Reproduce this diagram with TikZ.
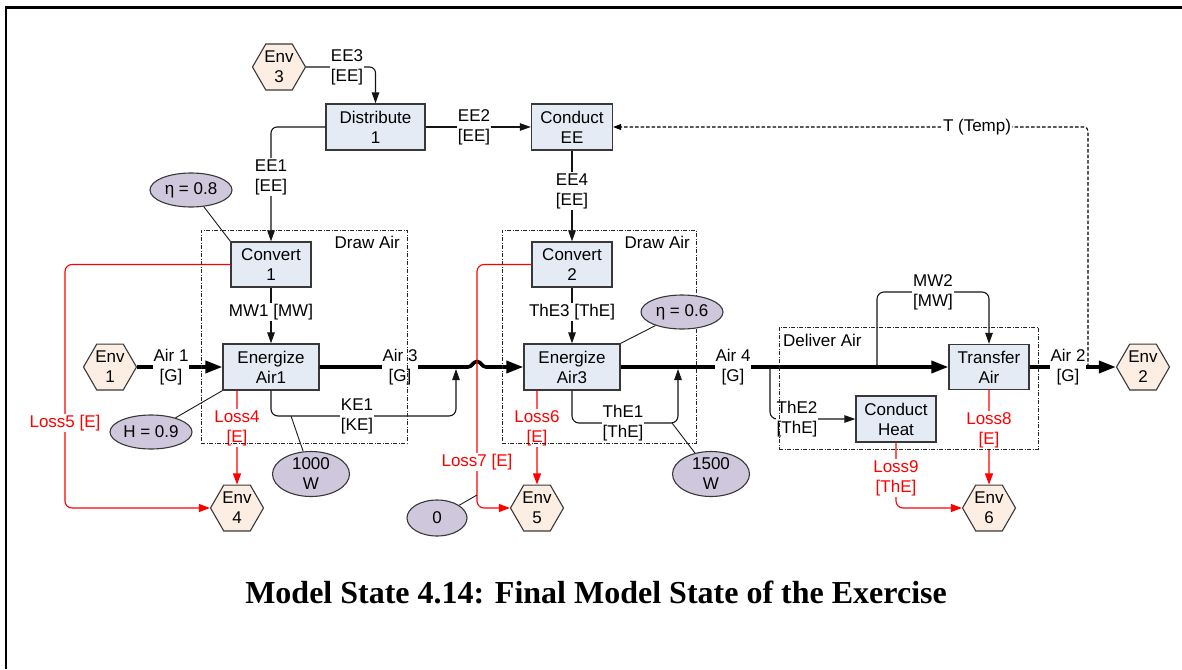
\documentclass[tikz,border=0pt]{standalone}
\usepackage{fontspec}
\setmainfont{Liberation Sans}
\newfontfamily\capfont{Liberation Serif}
\usetikzlibrary{arrows.meta,shapes.geometric,calc}

\definecolor{fnfill}{HTML}{E4EBF5}
\definecolor{envfill}{HTML}{FCEEE2}
\definecolor{parfill}{HTML}{CFC8DD}
\definecolor{edgegray}{HTML}{383838}
\definecolor{lossred}{HTML}{FF0000}

\pgfdeclarelayer{front}
\pgfsetlayers{main,front}

\begin{document}
\begin{tikzpicture}[x=1pt,y=-1pt,
  font=\fontsize{17}{20}\selectfont,
  fn/.style={draw=edgegray, fill=fnfill, line width=1.3pt, minimum width=80pt,
    minimum height=45pt, inner sep=0pt, align=center},
  env/.style={regular polygon, regular polygon sides=6, minimum size=53pt,
    draw=edgegray, fill=envfill, line width=1.1pt, inner sep=0pt, align=center},
  par/.style={ellipse, draw=edgegray, fill=parfill, line width=1.1pt,
    minimum width=82pt, minimum height=34pt, inner sep=0pt},
  partext/.style={align=center, inner sep=0pt},
  lbl/.style={fill=white, inner sep=1pt, align=center},
  redlbl/.style={lbl, text=lossred},
  conn/.style={draw=black!92, line width=1.1pt},
  arr/.style={-{Triangle[length=11pt,width=7.5pt]}},
  air/.style={draw=black, line width=3.6pt},
  airarr/.style={-{Triangle[length=17pt,width=12pt]}},
  loss/.style={draw=lossred, line width=1.1pt},
  lossarr/.style={-{Triangle[length=11pt,width=8pt]}},
  sig/.style={draw=black, line width=1.1pt, dash pattern=on 3.5pt off 2pt,
    -{Triangle[length=8pt,width=6pt]}},
  tie/.style={draw=black!90, line width=0.9pt},
  grp/.style={draw=black!85, line width=0.9pt,
    dash pattern=on 4pt off 1.5pt on 1pt off 1.5pt, minimum width=10pt,
    minimum height=10pt, inner sep=0pt},
  grplbl/.style={inner sep=0pt}
]
\useasboundingbox (0,0) rectangle (1182,669);

% page frame
\draw[line width=2.2pt] (1182,7.5) -- (6,7.5) -- (6,669);

% function blocks
\node[fn, minimum width=99pt, minimum height=46pt] (dist) at (375.5,127) {Distribute\\1};
\node[fn, minimum width=81pt, minimum height=46pt] (cee) at (572,127) {Conduct\\EE};
\node[fn] (cv1) at (271,264.5) {Convert\\1};
\node[fn] (cv2) at (572,264.5) {Convert\\2};
\node[fn, minimum width=96pt, minimum height=46pt] (ea1) at (271,367) {Energize\\Air1};
\node[fn, minimum width=96pt, minimum height=46pt] (ea3) at (572,367) {Energize\\Air3};
\node[fn] (ta) at (989,367) {Transfer\\Air};
\node[fn, minimum height=46pt] (ch) at (896,419) {Conduct\\Heat};

% environment ports
\node[env] (e3) at (279,67) {Env\\3};
\node[env] (e1) at (110,367) {Env\\1};
\node[env] (e2) at (1143,367) {Env\\2};
\node[env] (e4) at (237,508) {Env\\4};
\node[env] (e5) at (537,508) {Env\\5};
\node[env] (e6) at (989,508) {Env\\6};

% parameters, kept above the group frames
\begin{pgfonlayer}{front}
\node[par, label={[partext]center:η = 0.8}] (p08) at (191,190) {};
\node[par, label={[partext]center:η = 0.6}] (p06) at (682,312) {};
\node[par, label={[partext]center:H = 0.9}] (pH) at (151,432) {};
\node[par, minimum width=77pt, minimum height=45pt,
      label={[partext]center:1000\\W}] (p1000) at (311,474) {};
\node[par, minimum width=77pt, minimum height=45pt,
      label={[partext]center:1500\\W}] (p1500) at (711,474) {};
\node[par, minimum width=60pt, minimum height=36pt,
      label={[partext]center:0}] (p0) at (437,518) {};
\end{pgfonlayer}

% junction points on flows
\coordinate (kein) at (456,369);
\coordinate (thein) at (678,369);
\coordinate (mwsrc) at (877,367);
\coordinate (thsrc) at (770,367);
\coordinate (tsrc) at (1088,367);
\coordinate (kep) at (291,416);
\coordinate (thp) at (672,423);
\coordinate (l7p) at (477,495);

% electrical energy
\draw[conn,arr,rounded corners=6pt] (e3.east) -| (dist.north);
\draw[conn,arr] (dist.east) -- (cee.west);
\draw[conn,arr,rounded corners=6pt] (dist.west) -| (cv1.north);
\draw[conn,arr] (cee.south) -- (cv2.north);
\draw[conn,arr] (cv1.south) -- (ea1.north);
\draw[conn,arr] (cv2.south) -- (ea3.north);

% temperature signal
\draw[sig,rounded corners=4pt] (tsrc) |- (cee.east);

% gas flows
\draw[air,airarr] (e1.east) -- (ea1.west);
\draw[air,airarr] (ea1.east) -- (468,367) to[out=0,in=180] (477,361.5)
  to[out=0,in=180] (486,367) -- (ea3.west);
\draw[air,airarr] (ea3.east) -- (ta.west);
\draw[air,airarr] (ta.east) -- (e2.west);

% energy side branches
\draw[conn,arr,rounded corners=7pt] (ea1.south) |- (456,416) -- (kein);
\draw[conn,arr,rounded corners=7pt] (ea3.south) |- (678,423) -- (thein);
\draw[conn,arr,rounded corners=7pt] (mwsrc) -- (877,292) -| (ta.north);
\draw[conn,arr,rounded corners=7pt] (thsrc) |- (ch.west);

% losses
\draw[loss,lossarr] ([xshift=-34pt]ea1.south) -- (e4.north);
\draw[loss,lossarr,rounded corners=7pt] (cv1.west) -| (65,400) |- (e4.west);
\draw[loss,lossarr] ([xshift=-35pt]ea3.south) -- (e5.north);
\draw[loss,lossarr,rounded corners=7pt] (cv2.west) -| (477,400) |- (e5.west);
\draw[loss,lossarr] (ta.south) -- (e6.north);
\draw[loss,lossarr,rounded corners=7pt] (ch.south) |- (e6.west);

% parameter ties
\draw[tie] (p08) -- (cv1.north west);
\draw[tie] (pH) -- (ea1.south west);
\draw[tie] (p1000) -- (kep);
\draw[tie] (p06) -- (ea3.north east);
\draw[tie] (p1500) -- (thp);
\draw[tie] (p0) -- (l7p);

% flow labels
\node[lbl] (lee3) at (347,67) {EE3\\{}[EE]};
\node[lbl] (lee2) at (474,127) {EE2\\{}[EE]};
\node[lbl] (lee1) at (271,177) {EE1\\{}[EE]};
\node[lbl] (lee4) at (572,191) {EE4\\{}[EE]};
\node[lbl] (ltemp) at (977,127) {T (Temp)};
\node[lbl] (lmw1) at (271,312) {MW1 [MW]};
\node[lbl] (lthe3) at (572,312) {ThE3 [ThE]};
\node[lbl] (lair1) at (171,367) {Air 1\\{}[G]};
\node[lbl] (lair3) at (400,367) {Air 3\\{}[G]};
\node[lbl] (lair4) at (733,367) {Air 4\\{}[G]};
\node[lbl] (lair2) at (1068,367) {Air 2\\{}[G]};
\node[lbl] (lke1) at (357,416) {KE1\\{}[KE]};
\node[lbl] (lthe1) at (623,423) {ThE1\\{}[ThE]};
\node[lbl] (lmw2) at (933,292) {MW2\\{}[MW]};
\node[lbl] (lthe2) at (797,419) {ThE2\\{}[ThE]};
\node[redlbl] (lloss4) at (237,428) {Loss4\\{}[E]};
\node[redlbl] (lloss5) at (65,423) {Loss5 [E]};
\node[redlbl] (lloss6) at (537,428) {Loss6\\{}[E]};
\node[redlbl] (lloss7) at (477,462) {Loss7 [E]};
\node[redlbl] (lloss8) at (989,430) {Loss8\\{}[E]};
\node[redlbl] (lloss9) at (896,478) {Loss9\\{}[ThE]};

% function groups
\node[grp, minimum width=206pt, minimum height=213pt] (g1) at (304,336.5) {};
\node[grp, minimum width=194pt, minimum height=213pt] (g2) at (599,336.5) {};
\node[grp, minimum width=259pt, minimum height=122pt] (g3) at (908.5,388) {};
\node[grplbl, anchor=east] (g1l) at (400,242) {Draw Air};
\node[grplbl, anchor=east] (g2l) at (690,242) {Draw Air};
\node[grplbl, anchor=west] (g3l) at (783,340) {Deliver Air};

% caption
\node[font=\capfont\bfseries\fontsize{32}{38}\selectfont, anchor=base, inner sep=0pt]
  (cap) at (596,603) {Model State 4.14: Final Model State of the Exercise};
\end{tikzpicture}
\end{document}
